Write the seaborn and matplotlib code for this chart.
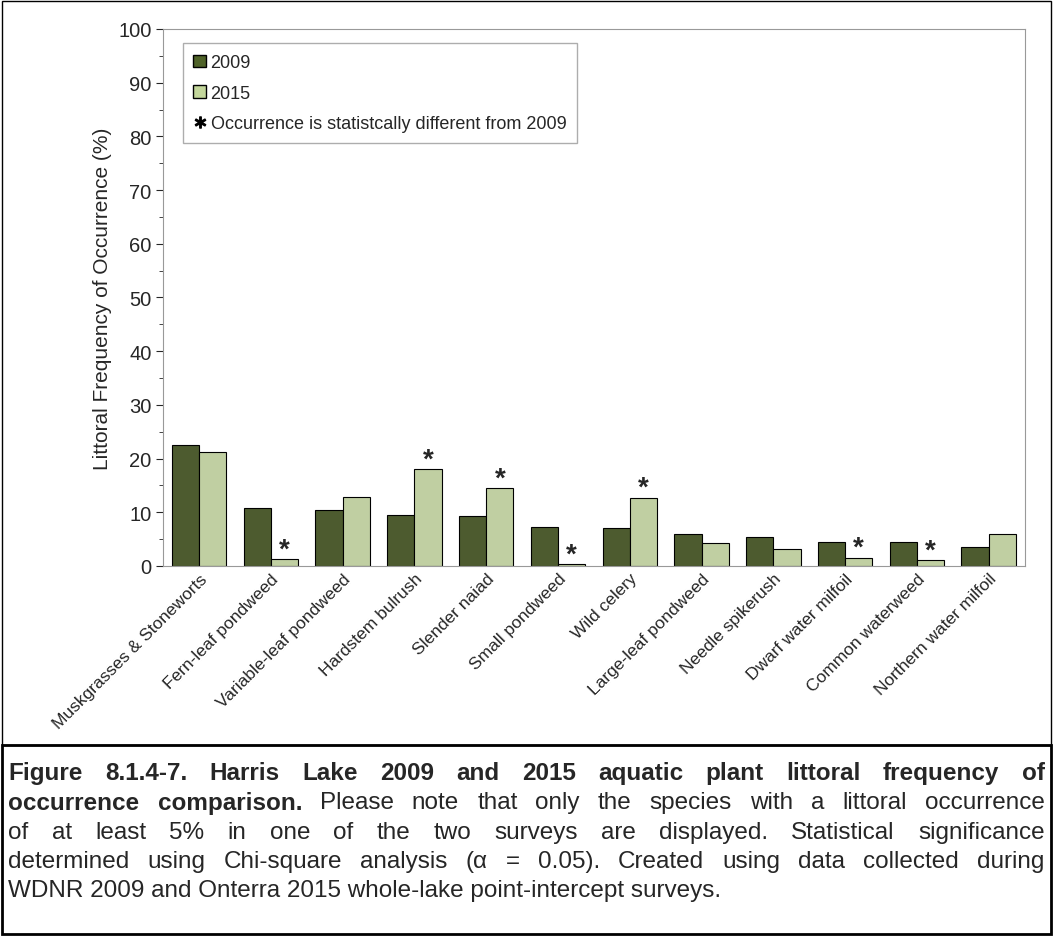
import matplotlib
matplotlib.use("Agg")
import matplotlib.pyplot as plt
import seaborn as sns
import pandas as pd
from matplotlib.patches import Patch, Rectangle
from matplotlib.lines import Line2D

species = ["Muskgrasses & Stoneworts", "Fern-leaf pondweed", "Variable-leaf pondweed",
           "Hardstem bulrush", "Slender naiad", "Small pondweed", "Wild celery",
           "Large-leaf pondweed", "Needle spikerush", "Dwarf water milfoil",
           "Common waterweed", "Northern water milfoil"]
occ_2009 = [22.5, 10.7, 10.5, 9.4, 9.2, 7.3, 7.1, 6.0, 5.3, 4.5, 4.5, 3.6]
occ_2015 = [21.2, 1.3, 12.9, 18.0, 14.5, 0.3, 12.7, 4.2, 3.1, 1.5, 1.1, 6.0]
signif = [False, True, False, True, True, True, True, False, False, True, True, False]

df = pd.DataFrame({"Species": species * 2,
                   "Year": ["2009"] * 12 + ["2015"] * 12,
                   "Occurrence": occ_2009 + occ_2015})

sns.set_style("white")
plt.rcParams['font.family'] = ['Liberation Sans', 'DejaVu Sans']

fig = plt.figure(figsize=(10.53, 9.37), dpi=100)
ax = fig.add_axes([0.155, 0.395, 0.818, 0.573])
dark, light = "#4F6228", "#C3D69B"
bw = 0.76
sns.barplot(data=df, x="Species", y="Occurrence", hue="Year", palette=[dark, light],
            edgecolor="black", linewidth=0.8, width=bw, ax=ax, legend=False)

# asterisks over significant 2015 bars
for i, (v, s) in enumerate(zip(occ_2015, signif)):
    if s:
        ax.text(i + bw / 4, v - 0.6, "*", ha="center", va="bottom", fontsize=20, fontweight="bold")

ax.set_ylim(0, 100)
ax.set_xlim(-0.5, 11.5)
ax.set_yticks(range(0, 101, 10))
ax.set_yticks(range(0, 101, 5), minor=True)
ax.tick_params(axis="y", which="major", length=5, left=True, labelsize=14.5)
ax.tick_params(axis="y", which="minor", length=3, left=True)
ax.tick_params(axis="x", length=0, labelsize=12.5)
ax.set_xticks(range(len(species)))
ax.set_xticklabels(species, rotation=45, ha="right", rotation_mode="anchor")
ax.set_xlabel("")
ax.set_ylabel("Littoral Frequency of Occurrence (%)", fontsize=15)
for sp in ax.spines.values():
    sp.set_color("#999999")

handles = [Patch(facecolor=dark, edgecolor="black"), Patch(facecolor=light, edgecolor="black"),
           Line2D([], [], marker="$\\ast$", linestyle="none", color="black", markersize=8)]
labels = ["2009", "2015", "Occurrence is statistcally different from 2009"]
ax.legend(handles, labels, loc="upper left", bbox_to_anchor=(0.012, 0.99), fontsize=13,
          frameon=True, fancybox=False, edgecolor="#999999", handlelength=0.7,
          handletextpad=0.25, labelspacing=0.75, borderpad=0.6)

# outer borders
fig.add_artist(Rectangle((0.002, 0.204), 0.996, 0.794, transform=fig.transFigure,
                         fill=False, edgecolor="black", linewidth=1))
fig.add_artist(Rectangle((0.002, 0.002), 0.996, 0.202, transform=fig.transFigure,
                         fill=False, edgecolor="black", linewidth=2))

# caption, justified word by word
fs = 17.5
x0, x1 = 0.008, 0.992
ys = [0.175, 0.143, 0.111, 0.080, 0.049]
lines = [
    [("Figure 8.1.4-7.  Harris Lake 2009 and 2015 aquatic plant littoral frequency of", True)],
    [("occurrence comparison.", True),
     ("Please note that only the species with a littoral occurrence", False)],
    [("of at least 5% in one of the two surveys are displayed.  Statistical significance", False)],
    [("determined using Chi-square analysis (α = 0.05).  Created using data collected during", False)],
]
fig.canvas.draw()
renderer = fig.canvas.get_renderer()
inv = fig.transFigure.inverted()
for y, segs in zip(ys, lines):
    words = []
    for txt, bold in segs:
        words += [(w, bold) for w in txt.split()]
    arts, widths = [], []
    for w, bold in words:
        a = fig.text(0, y, w, fontsize=fs, fontweight="bold" if bold else "normal", va="center")
        bb = a.get_window_extent(renderer).transformed(inv)
        arts.append(a)
        widths.append(bb.width)
    gap = (x1 - x0 - sum(widths)) / (len(words) - 1)
    x = x0
    for a, wd in zip(arts, widths):
        a.set_x(x)
        x += wd + gap
fig.text(x0, ys[4], "WDNR 2009 and Onterra 2015 whole-lake point-intercept surveys.",
         fontsize=fs, va="center")

fig.savefig("out.png", dpi=100)
